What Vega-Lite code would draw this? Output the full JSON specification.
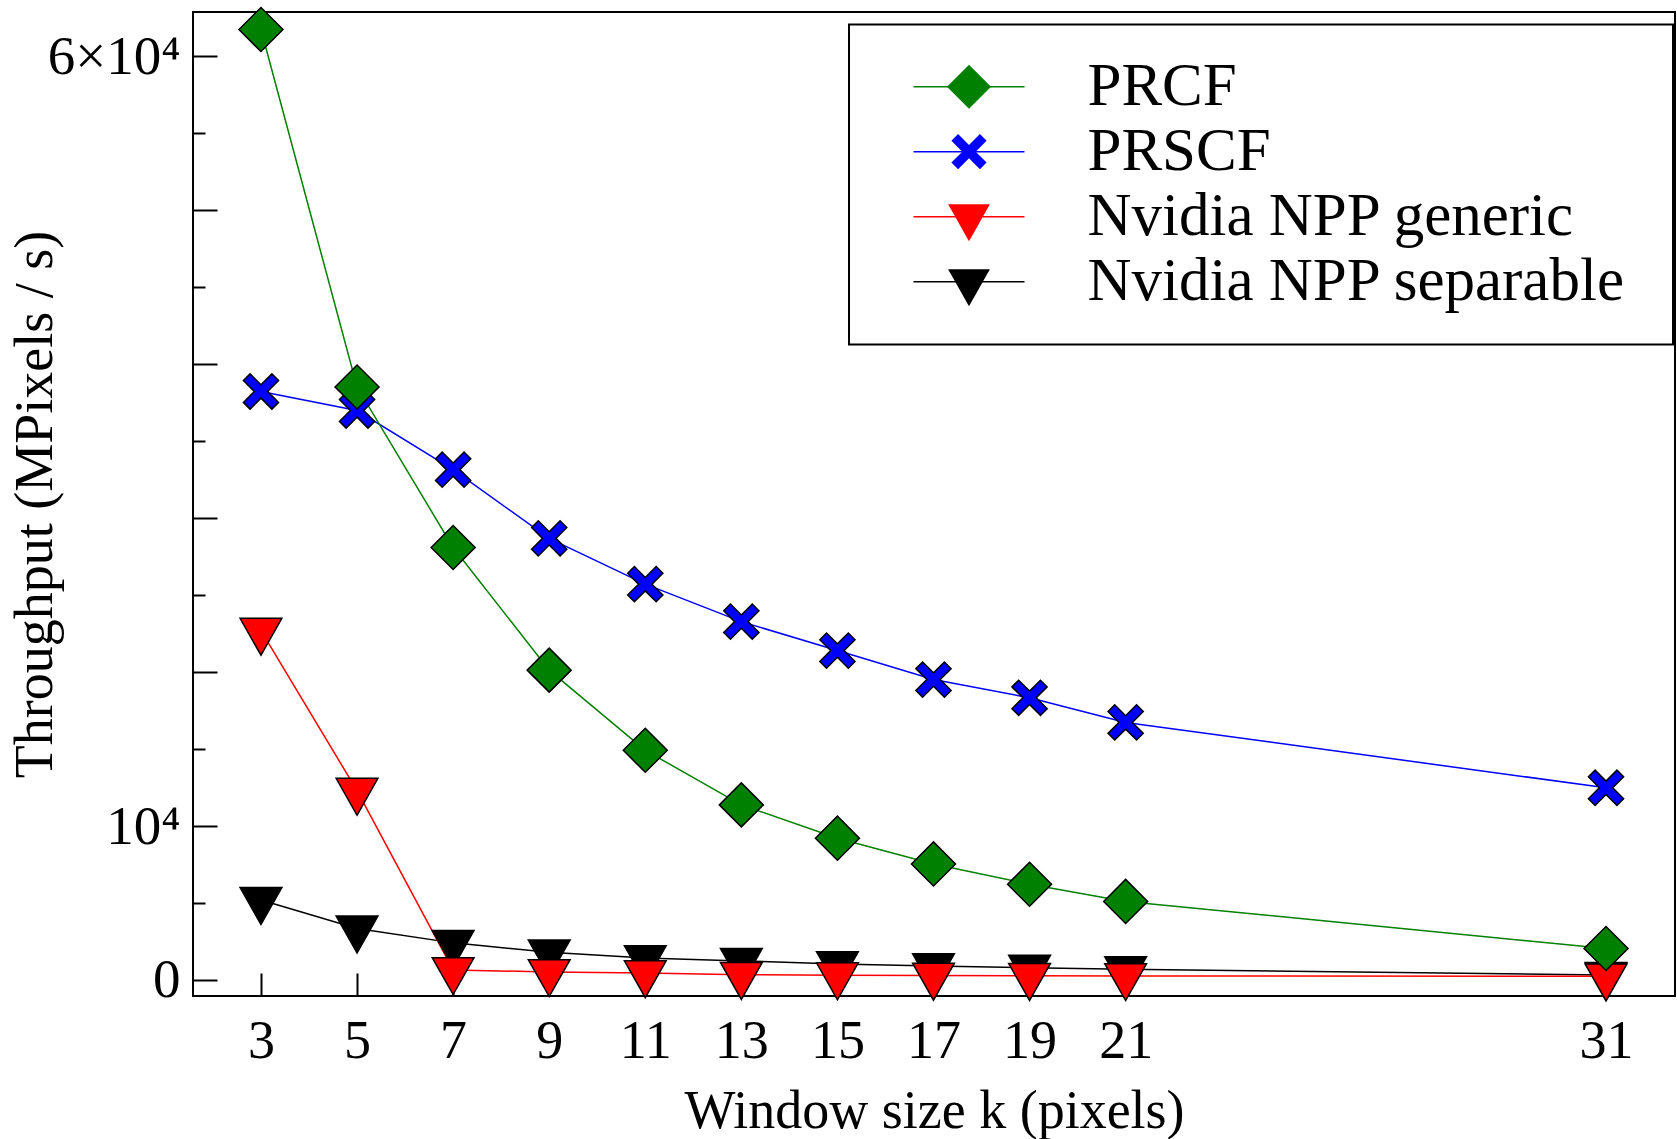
{
  "$schema": "https://vega.github.io/schema/vega-lite/v6.json",
  "width": 1482,
  "height": 984,
  "autosize": {"type": "none"},
  "padding": {"left": 193, "top": 12, "right": 2, "bottom": 143},
  "background": "white",
  "config": {
    "view": {"stroke": "black", "strokeWidth": 2},
    "font": "Liberation Serif"
  },
  "data": {
    "values": [
      {"k": 3, "series": "Nvidia NPP separable", "v": 5200},
      {"k": 5, "series": "Nvidia NPP separable", "v": 3350},
      {"k": 7, "series": "Nvidia NPP separable", "v": 2410},
      {"k": 9, "series": "Nvidia NPP separable", "v": 1800},
      {"k": 11, "series": "Nvidia NPP separable", "v": 1430},
      {"k": 13, "series": "Nvidia NPP separable", "v": 1240},
      {"k": 15, "series": "Nvidia NPP separable", "v": 1040},
      {"k": 17, "series": "Nvidia NPP separable", "v": 900},
      {"k": 19, "series": "Nvidia NPP separable", "v": 800},
      {"k": 21, "series": "Nvidia NPP separable", "v": 700},
      {"k": 31, "series": "Nvidia NPP separable", "v": 330},
      {"k": 3, "series": "Nvidia NPP generic", "v": 22700},
      {"k": 5, "series": "Nvidia NPP generic", "v": 12300},
      {"k": 7, "series": "Nvidia NPP generic", "v": 650},
      {"k": 9, "series": "Nvidia NPP generic", "v": 520},
      {"k": 11, "series": "Nvidia NPP generic", "v": 450},
      {"k": 13, "series": "Nvidia NPP generic", "v": 340},
      {"k": 15, "series": "Nvidia NPP generic", "v": 310},
      {"k": 17, "series": "Nvidia NPP generic", "v": 290},
      {"k": 19, "series": "Nvidia NPP generic", "v": 270},
      {"k": 21, "series": "Nvidia NPP generic", "v": 260},
      {"k": 31, "series": "Nvidia NPP generic", "v": 240},
      {"k": 3, "series": "PRSCF", "v": 38236},
      {"k": 5, "series": "PRSCF", "v": 37000},
      {"k": 7, "series": "PRSCF", "v": 33158},
      {"k": 9, "series": "PRSCF", "v": 28691},
      {"k": 11, "series": "PRSCF", "v": 25716},
      {"k": 13, "series": "PRSCF", "v": 23281},
      {"k": 15, "series": "PRSCF", "v": 21400},
      {"k": 17, "series": "PRSCF", "v": 19518},
      {"k": 19, "series": "PRSCF", "v": 18333},
      {"k": 21, "series": "PRSCF", "v": 16732},
      {"k": 31, "series": "PRSCF", "v": 12487},
      {"k": 3, "series": "PRCF", "v": 61750},
      {"k": 5, "series": "PRCF", "v": 38525},
      {"k": 7, "series": "PRCF", "v": 28100},
      {"k": 9, "series": "PRCF", "v": 20130},
      {"k": 11, "series": "PRCF", "v": 14922},
      {"k": 13, "series": "PRCF", "v": 11374},
      {"k": 15, "series": "PRCF", "v": 9212},
      {"k": 17, "series": "PRCF", "v": 7540},
      {"k": 19, "series": "PRCF", "v": 6217},
      {"k": 21, "series": "PRCF", "v": 5104},
      {"k": 31, "series": "PRCF", "v": 2044}
    ]
  },
  "encoding": {
    "x": {
      "field": "k", "type": "quantitative",
      "scale": {"domain": [1.585, 32.436], "nice": false, "zero": false},
      "axis": {
        "values": [3, 5, 7, 9, 11, 13, 15, 17, 19, 21, 31],
        "domain": false, "grid": false,
        "tickSize": -23, "tickWidth": 2, "tickColor": "black",
        "labelFont": "Liberation Serif", "labelFontSize": 54, "labelColor": "black",
        "labelPadding": 41, "labelFlush": false, "labelOverlap": false,
        "title": "Window size k (pixels)",
        "titleFont": "Liberation Serif", "titleFontSize": 54, "titleFontWeight": "normal", "titleColor": "black",
        "titleX": 741, "titleY": 131, "titleBaseline": "alphabetic", "titleAlign": "center",
        "offset": 0
      }
    },
    "y": {
      "field": "v", "type": "quantitative",
      "scale": {"domain": [-1042, 62891], "nice": false, "zero": false},
      "axis": {
        "values": [0, 5000, 10000, 15000, 20000, 25000, 30000, 35000, 40000, 45000, 50000, 55000, 60000],
        "domain": false, "grid": false,
        "tickSize": {"condition": {"test": "datum.value % 10000 === 0", "value": -24}, "value": -12},
        "tickWidth": 2, "tickColor": "black",
        "labelExpr": "datum.value === 0 ? '0' : datum.value === 10000 ? '10⁴' : datum.value === 60000 ? '6×10⁴' : ''",
        "labelFont": "Liberation Serif", "labelFontSize": 55, "labelColor": "black",
        "labelPadding": 37, "labelFlush": false, "labelOverlap": false, "labelBaseline": "middle",
        "title": "Throughput (MPixels / s)",
        "titleFont": "Liberation Serif", "titleFontSize": 54, "titleFontWeight": "normal", "titleColor": "black",
        "titleX": -142, "titleY": 492, "titleBaseline": "alphabetic", "titleAlign": "center", "titleAngle": -90,
        "offset": 0
      }
    }
  },
  "layer": [
    {
      "mark": {"type": "line", "strokeWidth": 1.5},
      "encoding": {
        "stroke": {
          "field": "series", "type": "nominal",
          "sort": ["PRCF", "PRSCF", "Nvidia NPP generic", "Nvidia NPP separable"],
          "scale": {"range": ["#008000", "#0000ff", "#ff0000", "#000000"]},
          "legend": {
            "orient": "none", "legendX": 656, "legendY": 12.5,
            "title": ".", "titleOrient": "right", "titlePadding": 14, "titleFontSize": 10, "titleColor": "white",
            "symbolType": "stroke", "symbolSize": 12321, "symbolStrokeWidth": 1.5,
            "symbolOffset": 33.5,
            "labelFont": "Liberation Serif", "labelFontSize": 61, "labelColor": "black",
            "labelLimit": 2000, "labelOffset": 62,
            "padding": 30, "clipHeight": 64.3, "rowPadding": 0,
            "strokeColor": "black", "fillColor": "white",
            "zindex": 1,
            "encode": {
              "legend": {"update": {"strokeWidth": {"value": 2}}}
            }
          }
        }
      }
    },
    {
      "mark": {"type": "point", "filled": true, "stroke": "black", "strokeWidth": 1.5, "opacity": 1, "size": 1936},
      "encoding": {
        "fill": {
          "field": "series", "type": "nominal",
          "scale": {
            "domain": ["PRCF", "PRSCF", "Nvidia NPP generic", "Nvidia NPP separable"],
            "range": ["#008000", "#0000ff", "#ff0000", "#000000"]
          },
          "legend": {
            "orient": "none", "legendX": 656, "legendY": 12.5,
            "title": null,
            "symbolSize": 1936, "symbolStrokeWidth": 1.5, "symbolStrokeColor": "black",
            "symbolOffset": 60,
            "labelExpr": "''", "labelFontSize": 60, "labelFont": "Liberation Serif",
            "padding": 30, "clipHeight": 64.3, "rowPadding": 0,
            "zindex": 2
          }
        },
        "shape": {
          "field": "series", "type": "nominal",
          "scale": {
            "domain": ["PRCF", "PRSCF", "Nvidia NPP generic", "Nvidia NPP separable"],
            "range": [
              "diamond",
              "M-0.8,-0.496L-0.496,-0.8L0,-0.304L0.496,-0.8L0.8,-0.496L0.304,0L0.8,0.496L0.496,0.8L0,0.304L-0.496,0.8L-0.8,0.496L-0.304,0Z",
              "M-0.95,-0.56L0.95,-0.56L0,1.12Z",
              "M-0.95,-0.56L0.95,-0.56L0,1.12Z"
            ]
          },
          "legend": {
            "orient": "none", "legendX": 656, "legendY": 12.5,
            "title": null,
            "symbolSize": 1936, "symbolStrokeWidth": 1.5, "symbolStrokeColor": "black",
            "symbolOffset": 60,
            "labelExpr": "''", "labelFontSize": 60, "labelFont": "Liberation Serif",
            "padding": 30, "clipHeight": 64.3, "rowPadding": 0,
            "zindex": 2
          }
        }
      }
    }
  ]
}
